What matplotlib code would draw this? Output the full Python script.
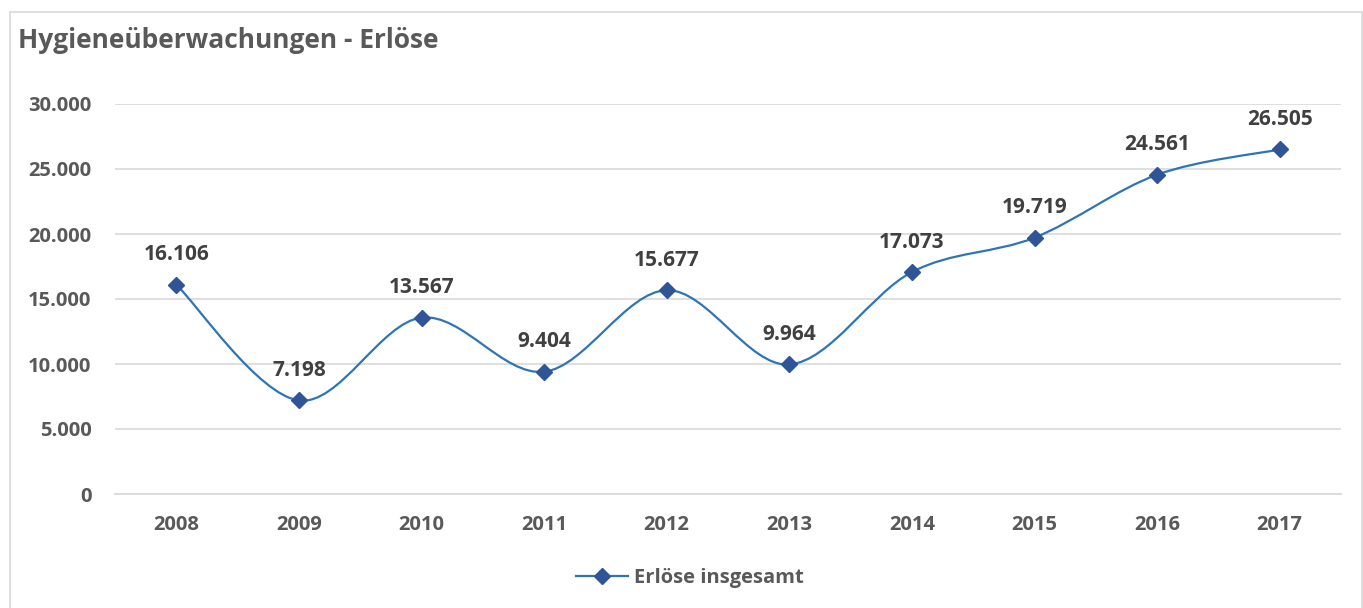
import numpy as np
import matplotlib.pyplot as plt
from matplotlib.path import Path
from matplotlib.patches import PathPatch, Rectangle
from matplotlib.lines import Line2D
from matplotlib.ticker import FuncFormatter

# data
years = ['2008', '2009', '2010', '2011', '2012', '2013', '2014', '2015', '2016', '2017']
erloese = [16106, 7198, 13567, 9404, 15677, 9964, 17073, 19719, 24561, 26505]

plt.rcParams['font.family'] = ['Open Sans', 'DejaVu Sans']
plt.rcParams['font.weight'] = 'bold'

fig = plt.figure(figsize=(13.63, 6.08), dpi=100)
W, H = 1363, 608

# chart border
fig.patches.append(Rectangle((10 / W, -0.01), (1362 - 10) / W, 1 - 12 / H + 0.01,
                             transform=fig.transFigure, fill=False,
                             edgecolor='#d9d9d9', linewidth=1.2))

ax = fig.add_axes([115 / W, 1 - 494 / H, (1341 - 115) / W, (494 - 104) / H])

x = np.arange(len(years))
y = np.array(erloese, dtype=float)

# smoothed line (catmull-rom style bezier, like excel)
verts = [(x[0], y[0])]
codes = [Path.MOVETO]
n = len(x)
for i in range(n - 1):
    p0 = np.array([x[max(i - 1, 0)], y[max(i - 1, 0)]])
    p1 = np.array([x[i], y[i]])
    p2 = np.array([x[i + 1], y[i + 1]])
    p3 = np.array([x[min(i + 2, n - 1)], y[min(i + 2, n - 1)]])
    c1 = p1 + (p2 - p0) / 6
    c2 = p2 - (p3 - p1) / 6
    verts += [tuple(c1), tuple(c2), tuple(p2)]
    codes += [Path.CURVE4] * 3
ax.add_patch(PathPatch(Path(verts, codes), fill=False, edgecolor='#2e75b6',
                       linewidth=1.6, zorder=3))
ax.plot(x, y, linestyle='none', marker='D', markersize=8,
        color='#2f5597', zorder=4)

for xi, yi in zip(x, y):
    lbl = f'{int(yi):,}'.replace(',', '.')
    ax.annotate(lbl, (xi, yi), xytext=(0, 14), textcoords='offset points',
                ha='center', va='bottom', fontsize=15, color='#404040',
                fontweight='bold')

ax.set_xlim(-0.5, n - 0.5)
ax.set_ylim(0, 30000)
ax.set_yticks(range(0, 30001, 5000))
ax.yaxis.set_major_formatter(FuncFormatter(lambda v, p: f'{int(v):,}'.replace(',', '.')))
ax.set_xticks(x)
ax.set_xticklabels(years)
ax.grid(axis='y', color='#d9d9d9', linewidth=1.2)
ax.set_axisbelow(True)
for s in ['top', 'right', 'left']:
    ax.spines[s].set_visible(False)
ax.spines['bottom'].set_color('#d9d9d9')
ax.spines['bottom'].set_linewidth(1.2)
ax.tick_params(length=0, labelsize=14.5, labelcolor='#595959')
ax.tick_params(axis='y', pad=17)
ax.tick_params(axis='x', pad=15)

fig.text(18 / W, 1 - 40 / H, 'Hygieneüberwachungen - Erlöse', fontsize=19,
         color='#595959', fontweight='bold', va='center', ha='left')

h = Line2D([], [], color='#2e75b6', linewidth=1.6, marker='D', markersize=8,
           markerfacecolor='#2f5597', markeredgecolor='#2f5597')
fig.legend([h], ['Erlöse insgesamt'], loc='center', bbox_to_anchor=(0.506, 1 - 578 / H),
           frameon=False, fontsize=14.5, labelcolor='#595959', handlelength=2.6,
           handletextpad=0.25)

fig.savefig('out.png', dpi=100)
